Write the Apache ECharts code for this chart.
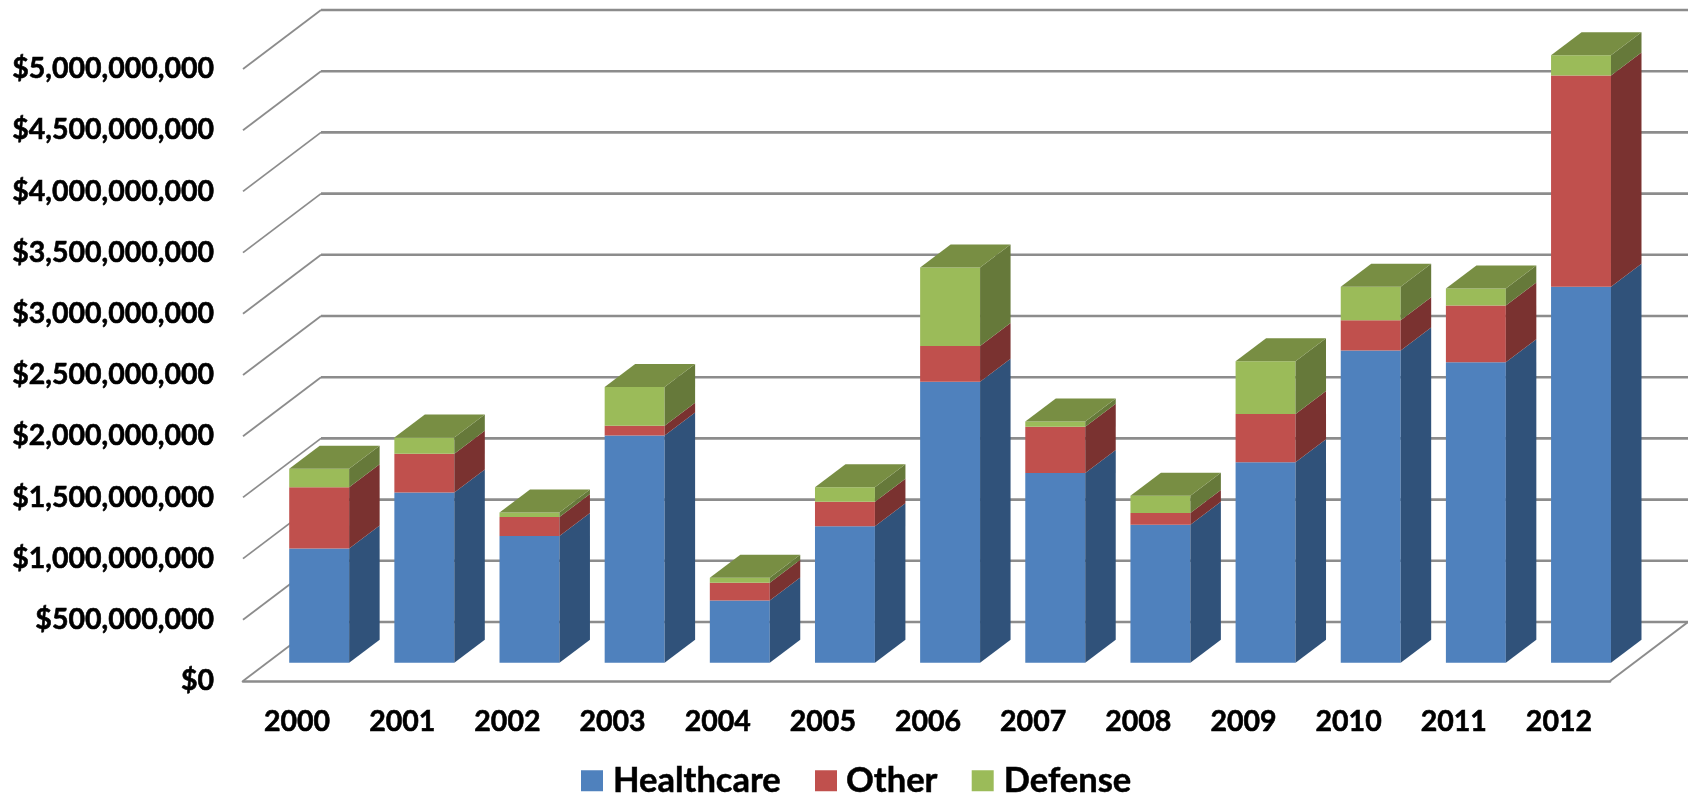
<!DOCTYPE html>
<html>
<head>
<meta charset="utf-8">
<style>
  html, body { margin: 0; padding: 0; background: #fff; }
  #chart { width: 1688px; height: 795px; }
</style>
<script src="https://cdn.jsdelivr.net/npm/echarts@6/dist/echarts.min.js"></script>
</head>
<body>
<div id="chart"></div>
<script>
// Annual spending by sector, in US dollars
const years = ['2000','2001','2002','2003','2004','2005','2006','2007','2008','2009','2010','2011','2012'];
const healthcare = [934e6,1391e6,1036e6,1857e6,509e6,1116e6,2297e6,1550e6,1127e6,1638e6,2552e6,2456e6,3072e6];
const other      = [501e6,317e6,156e6,80e6,145e6,199e6,291e6,378e6,97e6,395e6,247e6,463e6,1726e6];
const defense    = [150e6,132e6,35e6,316e6,40e6,120e6,642e6,44e6,141e6,431e6,273e6,140e6,166e6];
const yTicks = [0,5e8,1e9,15e8,2e9,25e8,3e9,35e8,4e9,45e8,5e9];

// Oblique projection used to fake the 3D look
const WALL_DX = 78, WALL_DY = -59;   // floor depth
const BAR_DX = 23.6, BAR_DY = -18.2; // gap between front edge of floor and bars
const SIDE_DX = 30.5, SIDE_DY = -23; // bar depth
const BAR_RATIO = 0.57;

const FONT = 'Lato';
const GRID = '#8c8c8c';

const shift = (p, dx, dy) => [p[0] + dx, p[1] + dy];

function renderWall(params, api) {
  const value = api.value(1);
  const band = api.size([1, 0])[0];
  const left = shift(api.coord([0, value]), -band / 2, 0);
  const right = shift(api.coord([years.length - 1, value]), band / 2, 0);
  const backLeft = shift(left, WALL_DX, WALL_DY);
  const backRight = shift(right, WALL_DX, WALL_DY);
  const children = [
    { type: 'polyline', shape: { points: [left, backLeft] },
      style: { stroke: GRID, lineWidth: 1.8, fill: null } },
    { type: 'polyline', shape: { points: [backLeft, backRight] },
      style: { stroke: GRID, lineWidth: 2.6, fill: null } }
  ];
  if (value === 0) {
    children.push({ type: 'polyline', shape: { points: [right, backRight] },
      style: { stroke: GRID, lineWidth: 2, fill: null } });
  }
  return { type: 'group', children };
}

function barRenderer(front, side, topFace) {
  return function (params, api) {
    const cat = api.value(0);
    const w = api.size([1, 0])[0] * BAR_RATIO;
    const base = shift(api.coord([cat, api.value(1)]), BAR_DX - w / 2, BAR_DY);
    const top = shift(api.coord([cat, api.value(2)]), BAR_DX - w / 2, BAR_DY);
    const x0 = base[0], x1 = base[0] + w;
    const children = [
      { type: 'polygon',
        shape: { points: [[x0, base[1]], [x1, base[1]], [x1, top[1]], [x0, top[1]]] },
        style: { fill: front } },
      { type: 'polygon',
        shape: { points: [[x1, base[1]], [x1 + SIDE_DX, base[1] + SIDE_DY],
                          [x1 + SIDE_DX, top[1] + SIDE_DY], [x1, top[1]]] },
        style: { fill: side } }
    ];
    if (topFace) {
      children.push({ type: 'polygon',
        shape: { points: [[x0, top[1]], [x1, top[1]],
                          [x1 + SIDE_DX, top[1] + SIDE_DY], [x0 + SIDE_DX, top[1] + SIDE_DY]] },
        style: { fill: topFace } });
    }
    return { type: 'group', children };
  };
}

// Builds [category, stackBase, stackTop] rows from the stacked arrays
function rows(values, below) {
  return values.map((v, i) => {
    const base = below.reduce((sum, arr) => sum + arr[i], 0);
    return [i, base, base + v];
  });
}

function stackSeries(name, values, below, front, side, topFace) {
  return {
    name, type: 'custom', clip: false, z: 3,
    itemStyle: { color: front },
    encode: { x: 0, y: [1, 2] },
    data: rows(values, below),
    renderItem: barRenderer(front, side, topFace)
  };
}

const chart = echarts.init(document.getElementById('chart'), null, { renderer: 'canvas' });
chart.setOption({
  animation: false,
  backgroundColor: '#ffffff',
  grid: { left: 243, right: 78, top: 69, bottom: 114 },
  xAxis: {
    type: 'category',
    data: years,
    axisTick: { show: false },
    axisLine: { show: true, lineStyle: { color: GRID, width: 2.6 } },
    axisLabel: {
      color: '#000', fontFamily: FONT, fontWeight: 'bold', fontSize: 28.5, margin: 26,
      textBorderColor: '#000', textBorderWidth: 0.6, padding: [0, 0, 0, 3]
    }
  },
  yAxis: {
    type: 'value',
    min: 0, max: 5e9, interval: 5e8,
    axisLine: { show: false },
    axisTick: { show: false },
    splitLine: { show: false },
    axisLabel: {
      color: '#000', fontFamily: FONT, fontWeight: 'bold', fontSize: 28.5, margin: 29,
      textBorderColor: '#000', textBorderWidth: 0.6, padding: [13, 0, 0, 0],
      formatter: v => '$' + v.toLocaleString('en-US')
    }
  },
  legend: {
    data: ['Healthcare', { name: 'Other', textStyle: { padding: [0, -4, 0, 4] } }, 'Defense'],
    left: 576, top: 758,
    icon: 'rect', itemWidth: 22, itemHeight: 21, itemGap: 34,
    textStyle: {
      color: '#000', fontFamily: FONT, fontWeight: 'bold', fontSize: 34.5,
      textBorderColor: '#000', textBorderWidth: 0.5, padding: [0, 0, 0, 5]
    }
  },
  series: [
    {
      type: 'custom', clip: false, z: 1, silent: true,
      encode: { x: 0, y: 1 },
      data: yTicks.map(v => [0, v]),
      renderItem: renderWall
    },
    stackSeries('Healthcare', healthcare, [], '#4F81BD', '#30527A'),
    stackSeries('Other', other, [healthcare], '#C0504D', '#7A3230'),
    stackSeries('Defense', defense, [healthcare, other], '#9BBB59', '#66793A', '#788E43')
  ]
});
</script>
</body>
</html>
